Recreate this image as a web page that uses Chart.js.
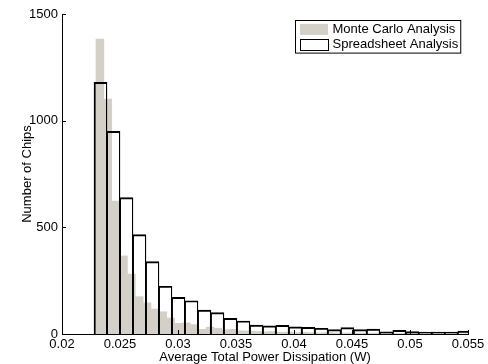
<!DOCTYPE html>
<html>
<head>
<meta charset="utf-8">
<script src="https://cdn.jsdelivr.net/npm/chart.js@4.4.1/dist/chart.umd.min.js"></script>
<style>
    html, body { margin: 0; padding: 0; background: #fff; }
</style>
</head>
<body>
<canvas id="histChart" width="488" height="364"></canvas>
<script>
// histogram bins (W) and counts
const monteCarloBinStart = 0.02293;
const monteCarloBinWidth = 0.000678;
const monteCarloCounts = [
    1383, 1101, 623, 366, 281, 175, 146, 117, 104, 75,
    50, 52, 44, 22, 32, 27, 20, 22, 15, 14,
    12, 10, 12, 8, 9, 7, 8, 6, 5, 7,
    5, 4, 5, 4, 3, 4, 3, 3, 2, 3,
    2, 2, 3, 2, 1, 2, 1, 1
];
const spreadsheetBinStart = 0.02276;
const spreadsheetBinWidth = 0.00112;
const spreadsheetCounts = [
    1180, 950, 639, 466, 339, 224, 172, 156, 112, 100,
    73, 61, 42, 38, 41, 34, 31, 27, 21, 30,
    21, 23, 10, 17, 11, 9, 9, 9, 14
];
const seriesLabels = ['Monte Carlo Analysis', 'Spreadsheet Analysis'];
const xTicks = [0.02, 0.025, 0.03, 0.035, 0.04, 0.045, 0.05, 0.055];
const yTicks = [0, 500, 1000, 1500];

const FONT = '"Liberation Sans", Arial, Helvetica, sans-serif';
Chart.defaults.font.family = FONT;
Chart.defaults.font.size = 13;
Chart.defaults.color = '#000';

function binPoints(start, width, counts) {
    return counts.map((c, i) => ({ x: start + (i + 0.5) * width, y: c }));
}

function fixedTicks(list) {
    return function (scale) {
        scale.ticks = list.map(v => ({ value: v }));
    };
}

// MATLAB style ticks pointing into the plot
const inwardTicks = {
    id: 'inwardTicks',
    afterDatasetsDraw(chart) {
        const { ctx, chartArea } = chart;
        const x = chart.scales.x, y = chart.scales.y;
        ctx.save();
        ctx.strokeStyle = '#000';
        ctx.lineWidth = 1;
        ctx.beginPath();
        x.ticks.forEach(t => {
            const px = Math.round(x.getPixelForValue(t.value)) + 0.5;
            ctx.moveTo(px, chartArea.bottom);
            ctx.lineTo(px, chartArea.bottom - 4);
        });
        y.ticks.forEach(t => {
            const py = Math.round(y.getPixelForValue(t.value)) + 0.5;
            ctx.moveTo(chartArea.left, py);
            ctx.lineTo(chartArea.left + 4, py);
        });
        ctx.stroke();
        ctx.restore();
    }
};

// boxed legend in the top right corner of the plot
const boxLegend = {
    id: 'boxLegend',
    afterDraw(chart) {
        const { ctx, chartArea } = chart;
        const sets = chart.data.datasets;
        ctx.save();
        ctx.font = '13px ' + FONT;
        const swW = 28, swH = 11, rowH = 14.8;
        const textW = Math.max(...sets.map(d => ctx.measureText(d.label).width));
        const w = 4.5 + swW + 4.5 + textW + 2.5;
        const h = 1.5 + rowH * sets.length + 1.5;
        const left = Math.round(chartArea.right - 8 - w) + 0.5;
        const top = chartArea.top + 6.5;
        ctx.fillStyle = '#fff';
        ctx.fillRect(left, top, w, h);
        ctx.strokeStyle = '#000';
        ctx.lineWidth = 1;
        ctx.strokeRect(left, top, w, h);
        sets.forEach((d, i) => {
            const cy = top + 1.5 + rowH * (i + 0.5);
            const sx = left + 4.5;
            if (d.legendFill) {
                ctx.fillStyle = d.legendFill;
                ctx.fillRect(sx, cy - swH / 2, swW, swH);
            }
            if (d.legendStroke) {
                ctx.strokeStyle = d.legendStroke;
                ctx.strokeRect(Math.round(sx) + 0.5, Math.round(cy - swH / 2) + 0.5, swW, swH);
            }
            ctx.fillStyle = '#000';
            ctx.textBaseline = 'middle';
            ctx.fillText(d.label, sx + swW + 4.5, cy);
        });
        ctx.restore();
    }
};

// outline bars: shared edges split between neighbours so they look like one line
function outlineWidth(c) {
    const last = c.dataset.data.length - 1;
    return {
        top: 1.3,
        left: c.dataIndex === 0 ? 1.3 : 0.65,
        right: c.dataIndex === last ? 1.3 : 0.65,
        bottom: 0
    };
}

const ctx = document.getElementById('histChart').getContext('2d');
const histChart = new Chart(ctx, {
    type: 'bar',
    data: {
        datasets: [{
            label: seriesLabels[0],
            data: binPoints(monteCarloBinStart, monteCarloBinWidth, monteCarloCounts),
            xAxisID: 'x2',
            backgroundColor: '#d4d0c8',
            borderWidth: 0,
            legendFill: '#d4d0c8',
            order: 2
        }, {
            label: seriesLabels[1],
            data: binPoints(spreadsheetBinStart, spreadsheetBinWidth, spreadsheetCounts),
            xAxisID: 'x',
            backgroundColor: 'rgba(255,255,255,0)',
            borderColor: '#000',
            borderWidth: outlineWidth,
            borderSkipped: false,
            legendFill: '#fff',
            legendStroke: '#000',
            order: 1
        }]
    },
    options: {
        responsive: false,
        animation: false,
        devicePixelRatio: 1,
        layout: { padding: { top: 14, right: 20, left: 0, bottom: 0 } },
        datasets: {
            bar: { barPercentage: 1, categoryPercentage: 1, grouped: false, clip: 0 }
        },
        plugins: {
            legend: { display: false },
            tooltip: { enabled: false }
        },
        scales: {
            x: {
                type: 'linear',
                position: 'bottom',
                min: 0.02,
                max: 0.055,
                offset: false,
                z: 1,
                afterBuildTicks: fixedTicks(xTicks),
                afterFit(scale) { scale.height = 30; },
                grid: { display: false, drawTicks: false },
                border: { display: true, color: '#000', width: 1 },
                ticks: {
                    padding: 3,
                    maxRotation: 0,
                    autoSkip: false,
                    callback: v => String(+v.toFixed(4))
                },
                title: {
                    display: true,
                    text: 'Average Total Power Dissipation (W)',
                    padding: { top: 0, bottom: -1.5 }
                }
            },
            x2: {
                type: 'linear',
                display: false,
                min: 0.02,
                max: 0.055,
                offset: false,
                afterBuildTicks: fixedTicks(xTicks)
            },
            y: {
                min: 0,
                max: 1500,
                z: 1,
                afterBuildTicks: fixedTicks(yTicks),
                afterFit(scale) { scale.width = 62; },
                grid: { display: false, drawTicks: false },
                border: { display: true, color: '#000', width: 1 },
                ticks: { padding: 4, callback: v => String(v) },
                title: {
                    display: true,
                    text: 'Number of Chips',
                    padding: { top: 20, bottom: 0 }
                }
            }
        }
    },
    plugins: [inwardTicks, boxLegend]
});
</script>
</body>
</html>
